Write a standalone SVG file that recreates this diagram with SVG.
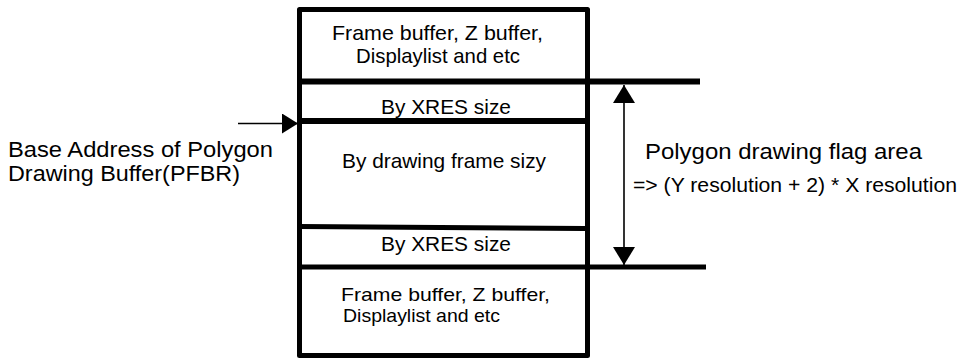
<svg xmlns="http://www.w3.org/2000/svg" width="959" height="359" viewBox="0 0 959 359">
<style>
text{font-family:"Liberation Sans",Arial,sans-serif;fill:#000;}
.box{font-size:21px;}
.sm{font-size:19px;}
.lbl{font-size:22px;}
.f{font-size:20px;}
.thick{stroke:#000;fill:none;}
.thin{stroke:#000;stroke-width:1.6;fill:none;}
</style>
<defs>
<marker id="ah" viewBox="0 0 18 22" refX="18" refY="11" markerWidth="18" markerHeight="22" markerUnits="userSpaceOnUse" orient="auto">
<path d="M0,0 L18,11 L0,22 Z" fill="#000"/>
</marker>
<marker id="ahl" viewBox="0 0 16 20" refX="16" refY="10" markerWidth="16" markerHeight="20" markerUnits="userSpaceOnUse" orient="auto">
<path d="M0,0 L16,10 L0,20 Z" fill="#000"/>
</marker>
</defs>
<g id="memory">
<rect x="299.5" y="9.5" width="288" height="346" fill="#fff" stroke="#000" stroke-width="5" stroke-linejoin="round"/>
</g>
<g id="connectors">
<line class="thick" x1="299.5" y1="81.5" x2="700" y2="81.5" stroke-width="6"/>
<line class="thick" x1="299.5" y1="121" x2="587" y2="121" stroke-width="6"/>
<line class="thick" x1="299.5" y1="226.5" x2="585" y2="228.5" stroke-width="5"/>
<line class="thick" x1="299.5" y1="267" x2="706" y2="267" stroke-width="5"/>
<line class="thin" x1="624" y1="175" x2="624" y2="85" marker-end="url(#ah)"/>
<line class="thin" x1="624" y1="175" x2="624" y2="265" marker-end="url(#ah)"/>
<line class="thin" x1="238" y1="123.5" x2="298" y2="123.5" marker-end="url(#ahl)"/>
</g>
<g id="top-block">
<text class="box" x="332" y="40" textLength="211" lengthAdjust="spacingAndGlyphs">Frame buffer, Z buffer,</text>
<text class="box" x="356" y="63" textLength="164" lengthAdjust="spacingAndGlyphs">Displaylist and etc</text>
</g>
<g id="xres-top">
<text class="box" x="381" y="114" textLength="130" lengthAdjust="spacingAndGlyphs">By XRES size</text>
</g>
<g id="drawing-frame">
<text class="box" x="342" y="168" textLength="204" lengthAdjust="spacingAndGlyphs">By drawing frame sizy</text>
</g>
<g id="xres-bottom">
<text class="box" x="381" y="251" textLength="130" lengthAdjust="spacingAndGlyphs">By XRES size</text>
</g>
<g id="bottom-block">
<text class="sm" x="341" y="301" textLength="209" lengthAdjust="spacingAndGlyphs">Frame buffer, Z buffer,</text>
<text class="sm" x="343" y="322" textLength="157" lengthAdjust="spacingAndGlyphs">Displaylist and etc</text>
</g>
<g id="pfbr-label">
<text class="lbl" x="8" y="157" textLength="265" lengthAdjust="spacingAndGlyphs">Base Address of Polygon</text>
<text class="lbl" x="8" y="181" textLength="232" lengthAdjust="spacingAndGlyphs">Drawing Buffer(PFBR)</text>
</g>
<g id="flag-label">
<text class="lbl" x="645" y="159" textLength="277" lengthAdjust="spacingAndGlyphs">Polygon drawing flag area</text>
<text class="f" x="633" y="192" textLength="324" lengthAdjust="spacingAndGlyphs">=&gt; (Y resolution + 2) * X resolution</text>
</g>
</svg>
